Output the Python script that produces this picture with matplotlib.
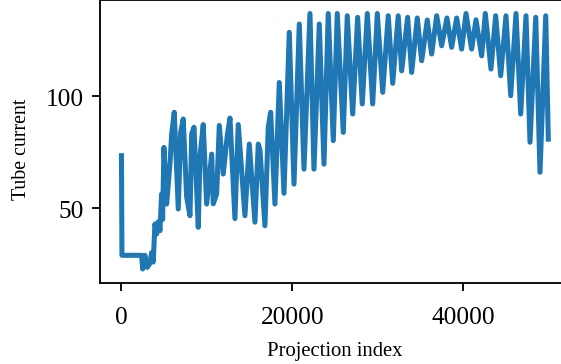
import matplotlib
matplotlib.use("Agg")
import matplotlib.pyplot as plt

plt.rcParams["font.family"] = ["Liberation Serif", "DejaVu Serif"]

# Tube current per projection (peaks and troughs)
proj_index = [
    0, 60, 2360, 2480, 2750, 3020, 3340, 3530, 3720, 3920,
    4120, 4310, 4510, 4700, 4820, 4970, 5290, 5680, 5880, 6180,
    6650, 6930, 7230, 7630, 8020, 8220, 8490, 8990, 9190, 9570,
    9970, 10560, 10740, 11140, 11450, 11910, 12380, 12700, 13280, 13670,
    14450, 14960, 15620, 16010, 16210, 16790, 17180, 17460, 17960, 18470,
    19020, 19640, 20190, 20810, 21360, 22060, 22530, 23150, 23700, 24200,
    24790, 25255, 25960, 26425, 27060, 27640, 28180, 28770, 29400, 29940,
    30570, 31220, 31740, 32390, 32790, 33490, 33960, 34620, 35130, 35790,
    36300, 36890, 37470, 38090, 38640, 39230, 39810, 40320, 40980, 41490,
    42150, 42580, 43240, 43790, 44380, 45000, 45550, 46170, 46720, 47340,
    47810, 48480, 48980, 49650, 49950,
]
tube_current = [
    73.5, 29.0, 29.0, 22.9, 29.0, 23.6, 25.5, 30.2, 26.0, 43.0,
    38.5, 44.0, 40.0, 56.4, 45.0, 77.2, 51.9, 70.0, 83.2, 92.9,
    49.7, 83.9, 89.9, 55.0, 46.7, 83.2, 86.2, 41.5, 72.8, 87.4,
    51.9, 74.2, 52.0, 56.4, 87.0, 65.3, 82.4, 90.3, 45.4, 87.4,
    46.7, 78.7, 43.8, 78.7, 76.0, 42.2, 86.2, 92.9, 51.9, 106.2,
    56.7, 128.6, 60.8, 132.3, 67.5, 137.0, 67.5, 132.3, 69.7, 137.0,
    80.2, 137.0, 83.9, 136.0, 92.1, 135.3, 96.6, 137.0, 96.6, 137.0,
    101.8, 136.0, 105.8, 136.0, 111.4, 135.3, 110.7, 135.0, 115.9, 134.1,
    118.9, 136.0, 122.6, 135.0, 121.9, 135.0, 121.1, 137.0, 121.1, 134.2,
    118.1, 137.0, 112.2, 136.0, 109.2, 136.0, 100.3, 137.0, 92.1, 136.0,
    79.5, 135.3, 66.1, 136.0, 80.9,
]

fig = plt.figure(figsize=(3.4, 2.212), dpi=165)
ax = fig.add_axes([0.1784, 0.2211, 0.8378, 0.776])

ax.plot(proj_index, tube_current, color="#1f77b4", lw=2.2)

ax.set_xlim(-2500, 52500)
ax.set_ylim(16.5, 143)
ax.set_xticks([0, 20000, 40000])
ax.set_yticks([50, 100])
ax.tick_params(labelsize=11)
ax.tick_params(axis="x", pad=6.5)
ax.set_xlabel("Projection index", fontsize=9, labelpad=5.5)
ax.set_ylabel("Tube current", fontsize=8.7)
ax.yaxis.set_label_coords(-0.148, 0.478)

fig.savefig("out.png", dpi=165)
